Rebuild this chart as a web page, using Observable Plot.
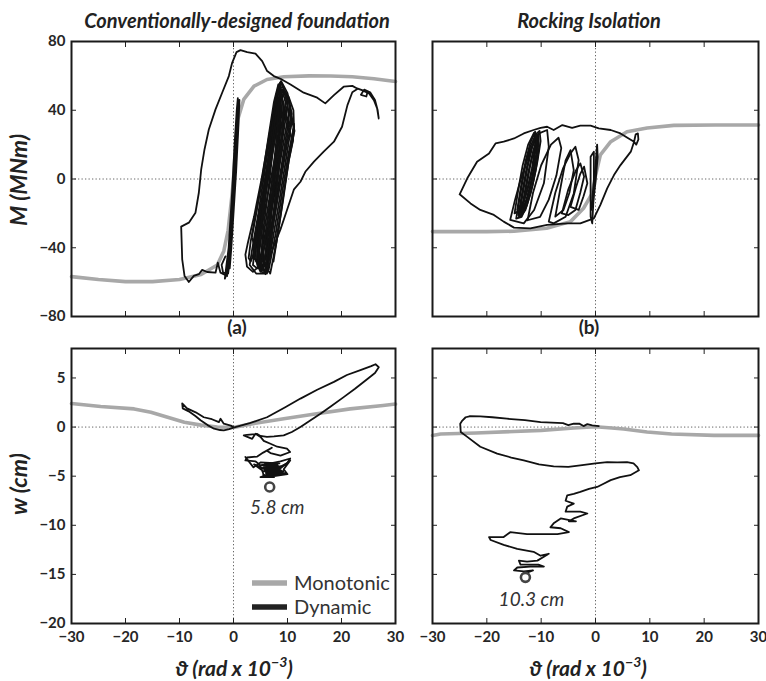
<!DOCTYPE html>
<html><head><meta charset="utf-8">
<script src="https://cdn.jsdelivr.net/npm/d3@7"></script>
<script src="https://cdn.jsdelivr.net/npm/@observablehq/plot@0.6"></script>
<style>
body{margin:0;background:#fff;}
#wrap{position:relative;width:766px;height:681px;overflow:hidden;background:#fff;}
#wrap svg{position:absolute;left:0;top:0;}
</style></head>
<body><div id="wrap"></div>
<script>
// ---------- tick values ----------
const thetaTicks = [-30,-20,-10,0,10,20,30];
const momentTicks = [-80,-40,0,40,80];
const settleTicks = [-20,-15,-10,-5,0,5];

// ---------- text ----------
const panelTitles = ["Conventionally-designed foundation", "Rocking Isolation"];
const panelTags = ["(a)", "(b)"];
const yLabels = ["M (MNm)", "w (cm)"];
const xLabelMain = "\u03D1 (rad x 10";
const xLabelExp = "\u22123";
const legendNames = ["Monotonic", "Dynamic"];

// ---------- (a) M–theta, conventional foundation ----------
const monoMa = [[-30,-56.8],[-25,-58.5],[-20,-59.7],[-15,-59.7],[-10,-58.5],[-6,-55.6],[-3,-50],[-1.8,-42],[-1,-30],[-0.3,-10],[0,0],[0.3,15],[0.8,34.7],[1.9,46.3],[3.8,54],[6.2,57.9],[9.3,59.5],[14,60],[18,59.9],[22,59.5],[26,58.3],[30,56.7]];
const envMa = [[-1.17,-56.4],[-2.41,-54.5],[-2.9,-48.7],[-3.33,-54.5],[-4.88,-54.1],[-5.8,-52.9],[-6.42,-55.4],[-7.35,-56.4],[-8.27,-59.9],[-9.07,-56.4],[-9.5,-46.7],[-9.69,-27.7],[-8.27,-25.4],[-7.04,-19.6],[-6.42,-8],[-5.98,5.6],[-5.37,17.2],[-4.57,28.8],[-3.33,40.5],[-2.1,50.2],[-0.86,59.9],[-0.25,67.6],[0.56,73.8],[1.3,75],[2.53,73.8],[4.07,73],[5.31,68.6],[6.23,62.8],[7.47,59.9],[8.7,58.3],[10.56,55],[13,50.2],[15.5,47.3],[17,44],[18.6,48.8],[20.4,53.7],[22,54.2],[22.9,52.7],[23.8,51.7],[25.1,49.8],[26,45.9],[26.6,41],[26.9,35.2],[26.7,40],[26.2,46],[25.3,50.5],[24.2,52],[23.6,49],[24.6,48],[24.8,50.5],[23,52.5],[22,50.5],[21.1,43],[20.1,30.4],[18.6,21.7],[16.7,15.9],[14.9,10.1],[13.3,4.2],[12.4,-1.6],[11.2,-6],[9.94,-17.7],[8.7,-29.3],[7.47,-39],[6.23,-49.6],[5.93,-55.4]];
const thinMa = [[-1.2,-56],[-0.9,-40],[-0.3,-10],[0.2,20],[0.6,40],[0.8,47],[0.8,40],[0.4,15],[-0.1,-15],[-0.5,-35],[-0.8,-50],[-1.0,-55],[-0.6,-42],[0,-15],[0.4,10],[0.7,35],[0.75,45],[0.5,30],[0.1,0],[-0.4,-30],[-0.9,-52],[-1.6,-58],[-1.3,-50],[-0.5,-30],[0.1,-5],[0.6,20],[1.0,40],[1.1,46],[0.9,30],[0.5,5],[0,-20],[-0.4,-40],[-0.7,-52],[-1.9,-55],[-2.2,-50],[-1.5,-45]];
const loopsMa = [
 [[5.9,-55],[7.0,-40],[8.2,-18],[9.4,5],[10.4,25],[10.8,38],[10.0,50],[8.8,57],[8.0,50],[7.0,30],[5.8,5],[4.6,-20],[3.4,-42],[3.0,-50],[4.2,-55],[5.9,-55]],
 [[6.5,-53],[7.8,-32],[9.0,-8],[10.2,15],[11.2,30],[11.1,40],[10.2,48],[9.0,52],[8.0,38],[6.8,15],[5.6,-10],[4.4,-32],[3.8,-45],[4.8,-52],[6.5,-53]],
 [[2.2,-44],[2.5,-51],[3.6,-54],[5.0,-50],[6.4,-30],[7.8,-5],[9.2,20],[10.2,38],[9.8,48],[8.8,56],[7.8,46],[6.6,25],[5.2,0],[3.8,-22],[2.6,-38],[2.2,-44]],
 [[4.8,-48],[6.0,-30],[7.2,-8],[8.4,15],[9.4,35],[9.6,45],[9.0,52],[8.2,45],[7.2,25],[6.0,2],[4.8,-20],[3.8,-38],[3.6,-46],[4.8,-48]],
 [[5.4,-52],[6.6,-34],[7.9,-12],[9.1,12],[10.1,32],[10.5,42],[9.6,51],[8.6,50],[7.5,32],[6.3,8],[5.1,-16],[4.0,-36],[4.2,-48],[5.4,-52]],
 [[6.8,-55],[8.0,-36],[9.2,-12],[10.3,12],[11.0,23],[11.2,30],[10.8,36],[9.9,42],[8.8,30],[7.6,8],[6.4,-16],[5.3,-38],[5.6,-50],[6.8,-55]],
 [[4.0,-40],[5.2,-22],[6.4,0],[7.6,22],[8.6,40],[8.8,50],[8.3,55],[7.5,45],[6.5,25],[5.4,2],[4.2,-20],[3.4,-34],[4.0,-40]],
 [[3.2,-48],[4.6,-36],[6.0,-15],[7.4,8],[8.8,30],[9.8,46],[9.2,54],[8.4,52],[7.2,32],[5.8,8],[4.4,-16],[3.2,-36],[2.8,-46],[3.2,-48]],
 [[5.0,-54],[6.4,-42],[7.6,-22],[8.8,0],[10.0,22],[10.9,34],[11.3,28],[10.9,22],[10.2,30],[9.5,40],[8.4,36],[7.0,12],[5.6,-14],[4.4,-38],[4.4,-50],[5.0,-54]],
 [[6.2,-50],[7.2,-30],[8.4,-6],[9.6,18],[10.6,36],[10.2,46],[9.3,50],[8.2,40],[7.0,18],[5.8,-6],[4.8,-28],[4.4,-42],[5.2,-50],[6.2,-50]],
 [[4.4,-52],[5.8,-38],[7.0,-18],[8.2,5],[9.2,26],[10.0,42],[9.6,50],[8.7,48],[7.6,28],[6.4,4],[5.2,-20],[4.0,-40],[3.6,-50],[4.4,-52]],
 [[7.4,-48],[8.4,-28],[9.5,-4],[10.5,18],[11.2,32],[11.0,22],[10.2,10],[9.2,-10],[8.1,-32],[7.4,-48]],
 [[5.8,-54],[6.6,-40],[7.4,-20],[8.2,0],[8.9,20],[9.3,40],[8.6,56],[7.8,45],[7.0,25],[6.0,0],[5.0,-20],[4.4,-40],[5.0,-52],[5.8,-54]],
 [[6.2,-55],[6.8,-40],[7.5,-20],[8.0,0],[8.5,20],[8.9,40],[8.4,55],[7.6,40],[6.8,20],[5.6,-5],[4.7,-28],[4.4,-45],[5.2,-54],[6.2,-55]],
 [[6.0,-50],[6.6,-35],[7.2,-15],[7.8,5],[8.4,25],[8.7,45],[8.2,52],[7.5,35],[6.6,12],[5.6,-12],[4.9,-32],[4.8,-45],[6.0,-50]],
 [[5.5,-53],[6.2,-38],[7.0,-18],[7.7,2],[8.3,22],[8.8,42],[8.5,54],[7.9,48],[7.2,30],[6.3,6],[5.3,-18],[4.6,-38],[4.7,-48],[5.5,-53]],
 [[6.4,-52],[7.0,-35],[7.8,-12],[8.5,10],[9.1,30],[9.2,45],[8.6,50],[8.0,35],[7.2,14],[6.3,-10],[5.5,-30],[5.2,-45],[6.4,-52]],
 [[5.7,-48],[6.4,-30],[7.1,-10],[7.8,12],[8.5,34],[8.6,48],[8.1,45],[7.3,25],[6.4,2],[5.6,-20],[5.0,-38],[5.7,-48]],
 [[5.2,-50],[5.9,-34],[6.7,-14],[7.4,6],[8.1,28],[8.5,46],[8.0,40],[7.1,20],[6.1,-2],[5.2,-24],[4.6,-42],[5.2,-50]]
];

// ---------- (b) M–theta, rocking isolation ----------
const monoMb = [[-30,-30.6],[-20,-30.6],[-15,-30.4],[-9,-28.7],[-4.6,-24.8],[-2.2,-17],[-0.6,-8.4],[0,2],[0.9,14],[2.8,21.7],[5.8,27.5],[9.5,29.7],[14.4,31.2],[22,31.4],[30,31.4]];
const envMb = [[-25,-8.9],[-23.6,0.4],[-21.8,10],[-19.6,14.9],[-18.4,20.7],[-16.9,21.7],[-15,23.6],[-13.2,26.5],[-11.4,28.5],[-10.1,29.8],[-8.9,30.4],[-7.7,28.5],[-6.1,31.4],[-4.3,29.7],[-2.8,31],[-0.9,31],[0.6,29.4],[2.8,28.5],[4.6,26.5],[6.1,23.6],[7.1,21.7],[7.4,26],[7.8,26.5],[7.9,23],[7.5,20],[7.1,21.7],[6.5,15.9],[4.6,8.1],[3.4,2.3],[2.15,-5.5],[0.9,-15.1],[-0.3,-22.9],[-2.8,-25.8],[-5.2,-25.8],[-8.9,-26.7],[-12,-28.7],[-15,-28.3],[-16.9,-24.8],[-18.7,-20.9],[-21.2,-18],[-23,-14.2],[-25,-8.9]];
const loopsMb = [
 [[-15.7,-23.8],[-14.8,-12],[-13.8,-0.6],[-12.9,8],[-12,16.8],[-10.4,26.5],[-8.9,28.5],[-8.6,18.8],[-9.5,-2.5],[-11.3,-18],[-13.2,-25.8],[-15.7,-23.8]],
 [[-12.5,-24],[-11.5,-8],[-10,8],[-8.2,20],[-6.8,24],[-6.3,18],[-7.2,2],[-8.6,-12],[-10.2,-22],[-12.5,-24]],
 [[-14.6,-23],[-13.9,-10],[-13.1,5],[-12.1,18],[-11,26],[-10.3,28],[-10.1,22],[-10.7,10],[-11.6,-4],[-12.6,-15],[-13.6,-22],[-14.6,-23]],
 [[-14.2,-21],[-13.5,-8],[-12.7,6],[-11.8,18],[-10.8,25],[-10.6,20],[-11.2,8],[-12.1,-5],[-13.1,-16],[-14.2,-21]],
 [[-14.9,-20],[-14.2,-6],[-13.4,8],[-12.4,20],[-11.3,27],[-11,21],[-11.7,6],[-12.7,-8],[-13.8,-18],[-14.9,-20]],
 [[-13.8,-22],[-13.1,-9],[-12.3,5],[-11.4,17],[-10.5,25],[-10.4,18],[-11,5],[-11.9,-8],[-12.9,-18],[-13.8,-22]],
 [[-14.4,-18],[-13.7,-4],[-12.9,10],[-12,21],[-11.1,27.5],[-10.8,22],[-11.4,9],[-12.3,-4],[-13.3,-14],[-14.4,-18]],
 [[-13.5,-20],[-12.8,-6],[-12.0,8],[-11.2,19],[-10.6,26],[-10.9,14],[-11.6,1],[-12.5,-11],[-13.5,-20]],
 [[-14.1,-22],[-13.3,-7],[-12.5,7],[-11.6,19],[-10.9,26],[-10.7,16],[-11.4,3],[-12.3,-9],[-13.3,-19],[-14.1,-22]],
 [[-8.6,-24.8],[-7.4,-8],[-6,6],[-4.6,14.9],[-3.7,18.8],[-3.1,11],[-4.0,-8.4],[-5.5,-22],[-7.7,-25.8],[-8.6,-24.8]],
 [[-7.4,-21.9],[-6.5,-6],[-5.5,10.9],[-4.6,16.8],[-4.0,5.2],[-4.8,-8],[-5.9,-18],[-7.4,-21.9]],
 [[-6.2,-20],[-5,-6],[-3.6,5],[-2.8,9.1],[-2.1,1.4],[-2.8,-8],[-3.7,-18],[-5,-21],[-6.2,-20]],
 [[-4.6,-16.2],[-3.6,-5],[-2.8,3],[-2.1,7.2],[-1.5,-2.5],[-2.2,-10],[-3.1,-18],[-4.6,-16.2]],
 [[-0.9,-21.9],[-0.9,-5],[-0.9,13],[-0.3,15.9],[-0.3,0],[-0.4,-14],[-0.6,-25.8],[-0.9,-21.9]],
 [[-0.8,-18],[-0.4,-5],[0,8],[0.3,20],[0.4,13],[0,-2],[-0.5,-15],[-0.8,-18]]
];

// ---------- (a) w–theta, conventional foundation ----------
const monoWa = [[-30,2.4],[-24.6,2.1],[-18.4,1.85],[-15.3,1.5],[-12.2,1.0],[-9.1,0.5],[-6,0.2],[-3,0],[0,-0.05],[3.1,0.3],[9.3,0.85],[15.4,1.35],[21.6,1.85],[27.7,2.2],[30,2.35]];
const dynWa = [[0,0],[-0.5,0.15],[-1.8,0.34],[-2.4,0.85],[-2.7,0.5],[-4,0.8],[-5.5,1.0],[-7,1.5],[-8.6,1.9],[-9.5,2.4],[-9.4,1.9],[-8.3,1.6],[-7,1.1],[-6.1,0.7],[-4.8,0.2],[-3.6,-0.17],[-2.5,-0.3],[-1.8,-0.34],[-0.8,-0.2],[0,-0.05],[1,0.1],[3,0.4],[6.2,1.0],[9.5,2.0],[12.4,2.9],[15.5,3.8],[18.6,4.6],[21,5.3],[23.5,5.8],[25.5,6.2],[26.3,6.4],[26.9,6.1],[26.2,5.5],[24.8,4.9],[22.5,3.9],[20.4,3.05],[18,2.1],[16.1,1.36],[14,0.6],[12.4,0],[10.8,-0.5],[9.3,-0.85],[7.5,-0.95],[6.2,-1.0],[5.0,-0.9],[4.4,-0.7],[3.5,-0.75],[2.5,-0.8],[1.9,-0.85],[3.46,-1.2],[4.07,-0.68],[5.0,-1.0],[5.6,-1.4],[6.85,-1.7],[8.1,-2.0],[9.9,-2.2],[10.5,-2.54],[8.7,-2.9],[6.85,-2.65],[6.2,-2.4],[7.1,-2.1],[5.5,-2.6],[4.4,-3.0],[2.5,-3.1],[2.2,-3.4],[4.1,-3.5],[5.0,-3.9],[6.85,-3.7],[8.7,-3.5],[10.5,-3.2],[9.9,-3.7],[8.1,-4.2],[6.2,-4.4],[4.7,-4.0],[3.8,-3.8],[5.3,-4.4],[5.6,-4.9],[6.5,-5.1]];
const blobWa = [[2.2,-3.05],[3.7,-4.1],[5,-3.6],[8.5,-3.7],[5.2,-3.9],[8.8,-4.0],[5.0,-4.2],[8.4,-4.3],[5.4,-4.5],[9.2,-4.5],[6,-4.7],[9.5,-4.7],[5.5,-4.9],[7.5,-5.0],[10,-4.8],[9.3,-4.3],[10.5,-3.4],[8,-4.5],[6.2,-4.9],[5.0,-5.1],[7.5,-5.1],[6.3,-5.1],[5.8,-3.8],[8.2,-3.9],[5.6,-4.1],[8.6,-4.15],[5.8,-4.35],[8.8,-4.4],[6.0,-4.6],[8.5,-4.6],[6.4,-4.8],[8.8,-4.85]];
const finalWa = [{theta: 6.7, w: -6.1}];
const noteWa = [{theta: 8.1, w: -8.2, text: "5.8 cm"}];

// ---------- (b) w–theta, rocking isolation ----------
const monoWb = [[-30,-0.85],[-28.5,-0.7],[-22,-0.6],[-15,-0.45],[-10,-0.34],[-4,-0.1],[0,0.03],[3,-0.1],[5.2,-0.2],[9.5,-0.5],[14,-0.7],[21.8,-0.85],[30,-0.85]];
const dynWb = [[0.6,0.1],[-0.6,0.17],[-1.5,0.3],[-2.2,0.1],[-3,0.35],[-4,0.34],[-5,0.2],[-6,0.4],[-10.1,0.51],[-13,0.7],[-16.3,0.85],[-19,1.0],[-21.2,1.09],[-23.2,1.1],[-23.9,1.0],[-24.6,0.6],[-24.9,0.34],[-24.8,-0.5],[-23.6,-1.0],[-21.2,-2.0],[-18.1,-2.7],[-15.5,-3.1],[-13.2,-3.4],[-10.4,-3.8],[-7.7,-4.0],[-5,-4.05],[-2.8,-3.9],[0,-3.7],[2.15,-3.56],[4,-3.6],[5.8,-3.56],[7.0,-3.7],[7.7,-4.07],[8.0,-4.4],[6.4,-4.9],[4.5,-5.1],[2.8,-5.4],[1.4,-5.8],[0.3,-6.1],[-1.2,-6.3],[-2.8,-6.6],[-4,-6.8],[-5.2,-6.95],[-5.5,-7.5],[-4,-7.8],[-5.2,-8.1],[-5.5,-8.6],[-2.8,-8.6],[-1.5,-8.8],[-4,-9.3],[-4.9,-9.6],[-3.6,-9.6],[-6.4,-9.3],[-7.7,-9.8],[-8.3,-10.2],[-6.4,-10.3],[-4.9,-10.7],[-7.0,-10.9],[-10.1,-10.9],[-12.6,-10.9],[-15.7,-10.7],[-16.9,-11.2],[-19.6,-11.2],[-19.3,-11.5],[-16.9,-12.0],[-14.4,-12.4],[-11.4,-12.7],[-10.1,-13.1],[-8.6,-12.9],[-9.5,-13.2],[-10.7,-13.6],[-12.6,-13.7],[-14.1,-13.6],[-13.8,-14.0],[-10.5,-14.0],[-9.5,-14.2],[-12,-14.2],[-14.4,-14.3],[-15,-14.6],[-13.2,-14.7],[-11.5,-14.6],[-13,-14.9]];
const finalWb = [{theta: -12.9, w: -15.3}];
const noteWb = [{theta: -11.8, w: -17.6, text: "10.3 cm"}];

// ---------- drawing ----------
const W = 766, H = 681;
const FONT = "Lato, 'DejaVu Sans', sans-serif";
const GRAY = "#a8a8a8", BLACK = "#111";
const fmt = d => d < 0 ? "\u2212" + Math.abs(d) : String(d);
const px = d => d[0], py = d => d[1];
const mono = arr => Plot.line(arr, {x: px, y: py, stroke: GRAY, strokeWidth: 3.6});
const dyn = arr => Plot.line(arr, {x: px, y: py, stroke: BLACK, strokeWidth: 1.8, strokeLinejoin: "round"});

function panel(rect, ydom, yticks, showX, showY, layers) {
  const [x0, y0, x1, y1] = rect;
  return Plot.plot({
    width: W, height: H,
    marginLeft: x0, marginRight: W - x1, marginTop: y0, marginBottom: H - y1,
    x: {domain: [-30, 30]},
    y: {domain: ydom},
    style: {fontFamily: FONT, fontSize: "15px", fontWeight: "bold", background: "transparent", color: "#262626", overflow: "visible"},
    marks: [
      Plot.ruleX([0], {stroke: "#666", strokeDasharray: "1.3,2.2", strokeWidth: 1}),
      Plot.ruleY([0], {stroke: "#666", strokeDasharray: "1.3,2.2", strokeWidth: 1}),
      ...layers,
      Plot.axisX(thetaTicks, {anchor: "bottom", tickSize: -5, tickPadding: 13, tickFormat: fmt, label: null, fill: showX ? "#262626" : "none", stroke: "#222"}),
      Plot.axisX(thetaTicks, {anchor: "top", tickSize: -5, label: null, fill: "none", stroke: "#222"}),
      Plot.axisY(yticks, {anchor: "left", tickSize: -5, tickPadding: 11, tickFormat: fmt, label: null, fill: showY ? "#262626" : "none", stroke: "#222"}),
      Plot.axisY(yticks, {anchor: "right", tickSize: -5, label: null, fill: "none", stroke: "#222"}),
      Plot.frame({stroke: "#1a1a1a", strokeWidth: 2})
    ]
  });
}

const wrap = document.getElementById("wrap");
const ann = (dots, notes) => [
  Plot.dot(dots, {x: "theta", y: "w", r: 4.5, stroke: "#444", strokeWidth: 2.6, fill: "white"}),
  Plot.text(notes, {x: "theta", y: "w", text: "text", fontStyle: "italic", fontWeight: "normal", fontSize: 19, fill: "#333"})
];

wrap.append(panel([71, 41, 395, 316], [-80, 80], momentTicks, false, true,
  [mono(monoMa), dyn(envMa), dyn(thinMa), ...loopsMa.map(dyn)]));
wrap.append(panel([432, 41, 758, 316], [-80, 80], momentTicks, false, false,
  [mono(monoMb), dyn(envMb), ...loopsMb.map(dyn)]));
wrap.append(panel([71, 348, 395, 623], [-20, 8], settleTicks, true, true,
  [mono(monoWa), dyn(dynWa), dyn(blobWa), ...ann(finalWa, noteWa)]));
wrap.append(panel([432, 348, 758, 623], [-20, 8], settleTicks, true, false,
  [mono(monoWb), dyn(dynWb), ...ann(finalWb, noteWb)]));

// ---------- titles, labels, legend ----------
const svg = d3.select(wrap).append("svg").attr("width", W).attr("height", H)
  .style("font-family", FONT).style("fill", "#222");
const colsX = [237, 589];
panelTitles.forEach((t, i) => svg.append("text").attr("x", colsX[i]).attr("y", 28)
  .attr("text-anchor", "middle").attr("font-size", 20).attr("font-weight", "bold").attr("font-style", "italic").text(t));
panelTags.forEach((t, i) => svg.append("text").attr("x", colsX[i]).attr("y", 334)
  .attr("text-anchor", "middle").attr("font-size", 19).attr("font-weight", "bold").text(t));
const yLabCy = [180, 484];
yLabels.forEach((t, i) => svg.append("text").attr("transform", `translate(27,${yLabCy[i]}) rotate(-90)`)
  .attr("text-anchor", "middle").attr("font-size", 23).attr("font-weight", "bold").attr("font-style", "italic").text(t));
[234, 588].forEach(cx => {
  const t = svg.append("text").attr("x", cx).attr("y", 676).attr("text-anchor", "middle")
    .attr("font-size", 21).attr("font-weight", "bold").attr("font-style", "italic");
  t.append("tspan").text(xLabelMain);
  t.append("tspan").attr("dy", -9).attr("font-size", 14).text(xLabelExp);
  t.append("tspan").attr("dy", 9).text(")");
});
const legColors = [GRAY, "#222"];
const legY = [583, 607];
legendNames.forEach((n, i) => {
  svg.append("line").attr("x1", 252).attr("x2", 287).attr("y1", legY[i]).attr("y2", legY[i])
    .attr("stroke", legColors[i]).attr("stroke-width", 5.5);
  svg.append("text").attr("x", 294).attr("y", legY[i] + 7).attr("font-size", 20).attr("fill", "#333").text(n);
});
</script>
</body></html>
